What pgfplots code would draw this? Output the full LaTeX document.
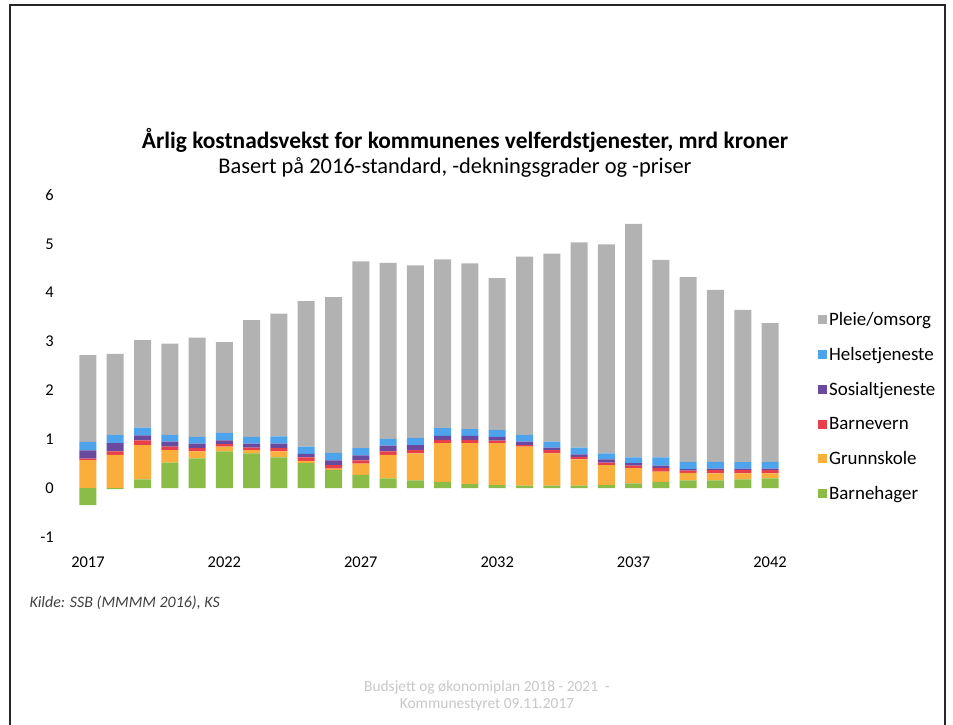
\documentclass[border=0pt]{standalone}
\usepackage{fontspec}
\setmainfont{Carlito}
\usepackage{pgfplots}
\usepackage{pgfplotstable}
\pgfplotsset{compat=1.18}
\definecolor{cGrey}{HTML}{B2B2B2}
\definecolor{cBlue}{HTML}{4DA3EC}
\definecolor{cPurple}{HTML}{6A4A9E}
\definecolor{cRed}{HTML}{E8404A}
\definecolor{cOrange}{HTML}{FAAE3C}
\definecolor{cGreen}{HTML}{8CBC48}
\pgfplotstableread{
year green orange red purple blue grey
2017 -0.35 0.575 0.03 0.17 0.17 1.78
2018 -0.02 0.68 0.07 0.17 0.17 1.66
2019 0.18 0.70 0.10 0.10 0.16 1.79
2020 0.52 0.26 0.07 0.10 0.14 1.87
2021 0.61 0.14 0.07 0.09 0.14 2.03
2022 0.75 0.10 0.05 0.08 0.15 1.86
2023 0.71 0.07 0.05 0.08 0.14 2.39
2024 0.63 0.12 0.07 0.09 0.15 2.51
2025 0.51 0.05 0.07 0.07 0.15 2.98
2026 0.37 0.03 0.07 0.10 0.15 3.19
2027 0.27 0.23 0.07 0.10 0.15 3.82
2028 0.20 0.48 0.07 0.12 0.14 3.60
2029 0.16 0.55 0.07 0.10 0.15 3.53
2030 0.13 0.79 0.07 0.08 0.16 3.45
2031 0.08 0.84 0.07 0.08 0.14 3.39
2032 0.06 0.86 0.05 0.08 0.14 3.11
2033 0.05 0.80 0.03 0.07 0.14 3.65
2034 0.05 0.66 0.07 0.05 0.12 3.85
2035 0.05 0.54 0.05 0.05 0.14 4.20
2036 0.06 0.41 0.05 0.07 0.12 4.28
2037 0.10 0.31 0.05 0.05 0.12 4.78
2038 0.13 0.21 0.07 0.05 0.17 4.04
2039 0.16 0.15 0.05 0.03 0.15 3.78
2040 0.16 0.14 0.07 0.03 0.14 3.52
2041 0.18 0.12 0.07 0.03 0.13 3.12
2042 0.20 0.10 0.07 0.03 0.14 2.84
}\datatable
\begin{document}
\begin{tikzpicture}
\path[use as bounding box] (0bp,0bp) rectangle (953bp,725bp);
\draw[line width=2.5bp, black!85] (10bp,-2bp) -- (10bp,720bp) -- (945bp,720bp) -- (945bp,-2bp);
\node[font=\bfseries\fontsize{23.5}{26}\selectfont] at (465bp,585bp) {Årlig kostnadsvekst for kommunenes velferdstjenester, mrd kroner};
\node[font=\fontsize{22.5}{25}\selectfont] at (455bp,558bp) {Basert på 2016-standard, -dekningsgrader og -priser};
\node[font=\itshape\fontsize{16}{19}\selectfont, text=black!75, anchor=west] at (26bp,122bp) {Kilde: SSB (MMMM 2016), KS};
\node[font=\fontsize{15.5}{17.5}\selectfont, text=black!22, align=center] at (487bp,29bp) {Budsjett og økonomiplan 2018 - 2021 \ -\\Kommunestyret 09.11.2017};
\begin{axis}[
  at={(74.3bp,188bp)}, anchor=south west,
  scale only axis, width=709.4bp, height=342bp,
  ybar stacked, bar width=17bp,
  xmin=2016.5, xmax=2042.5, ymin=-1, ymax=6,
  xtick={2017,2022,2027,2032,2037,2042},
  ytick={-1,0,1,2,3,4,5,6},
  axis line style={draw=none},
  major tick length=0pt,
  /pgf/number format/assume math mode=true,
  /pgf/number format/1000 sep={},
  ticklabel style={font=\fontsize{16.5}{19}\selectfont},
  yticklabel style={xshift=-17bp},
  xticklabel style={yshift=-16bp},
  clip=false,
  reverse legend,
  legend cell align=left,
  legend style={draw=none, fill=none, at={(1.044,0.67)}, anchor=north west,
    font=\fontsize{19}{22}\selectfont, row sep=16.5bp},
  legend image code/.code={\fill[#1] (0bp,-4.5bp) rectangle (9bp,4.5bp);},
]
\addplot[fill=cGreen, draw=none] table[x=year,y=green]{\datatable};
\addlegendentry{Barnehager}
\addplot[fill=cOrange, draw=none] table[x=year,y=orange]{\datatable};
\addlegendentry{Grunnskole}
\addplot[fill=cRed, draw=none] table[x=year,y=red]{\datatable};
\addlegendentry{Barnevern}
\addplot[fill=cPurple, draw=none] table[x=year,y=purple]{\datatable};
\addlegendentry{Sosialtjeneste}
\addplot[fill=cBlue, draw=none] table[x=year,y=blue]{\datatable};
\addlegendentry{Helsetjeneste}
\addplot[fill=cGrey, draw=none] table[x=year,y=grey]{\datatable};
\addlegendentry{Pleie/omsorg}
\end{axis}
\end{tikzpicture}
\end{document}
